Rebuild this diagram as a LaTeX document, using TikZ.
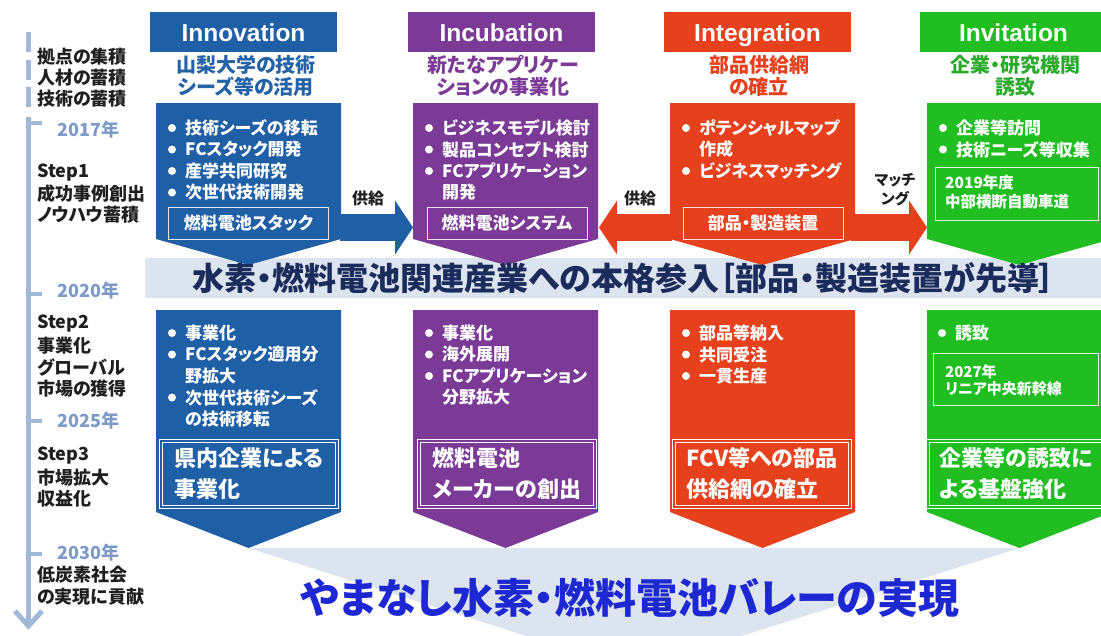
\documentclass[tikz,border=0pt]{standalone}
\usepackage{fontspec}
\setmainfont{Noto Sans CJK JP}[RawFeature=+palt]
\newfontfamily\latf{Liberation Sans}
\usetikzlibrary{arrows.meta}
\definecolor{cblue}{HTML}{1E5FA5}
\definecolor{cpurple}{HTML}{7B3A96}
\definecolor{cred}{HTML}{E6401C}
\definecolor{cgreen}{HTML}{20BE20}
\definecolor{sblue}{HTML}{2462A8}
\definecolor{spurple}{HTML}{7B3A96}
\definecolor{sred}{HTML}{E6401C}
\definecolor{sgreen}{HTML}{2AAA2A}
\definecolor{cbanner}{HTML}{DCE4F0}
\definecolor{cbantext}{HTML}{1B2B5B}
\definecolor{cbottom}{HTML}{1E28D2}
\definecolor{ctl}{HTML}{A2B8D8}
\definecolor{cyear}{HTML}{7E9BC8}
\newcommand\mychev[5]{\fill[#1] (#2,#3) -- ({#2+185},#3) -- ({#2+185},#4) -- ({#2+92.5},#5) -- (#2,#4) -- cycle;}
\newcommand\mybul[4]{\fill[white] (#1,#2) circle (4pt); \node[bt] (#4) at ({#1+13},#2) {#3};}
\tikzset{
  every node/.style={inner sep=0pt},
  lbl/.style={anchor=west, text=black!88, font=\bfseries\fontsize{18}{21}\selectfont},
  yr/.style={anchor=west, text=cyear, font=\bfseries\fontsize{18}{21}\selectfont},
  ttl/.style={fill=#1, minimum width=187pt, minimum height=40pt, text height=24pt, text depth=5pt, text=white, font=\latf\bfseries\fontsize{24.5}{27}\selectfont},
  sub/.style={text=#1, align=center, font=\bfseries\fontsize{20}{22}\selectfont},
  bt/.style={anchor=west, text=white, font=\bfseries\fontsize{17}{20}\selectfont},
  tbox/.style={draw=white!85!#1, line width=0.9pt, minimum width=160pt, minimum height=32pt, text=white, font=\bfseries\fontsize{17}{20}\selectfont},
  lbox/.style={draw=white, double=#1, double distance=1.4pt, line width=1.1pt, minimum width=176pt, minimum height=66pt, text=white, align=left, font=\bfseries\fontsize{22}{31}\selectfont},
  gbox/.style={draw=white!85!cgreen, line width=0.9pt},
  gtext/.style={anchor=west, align=left, text=white, font=\bfseries\fontsize{15.5}{19}\selectfont},
  barrow/.style={draw=#1, line width=27pt, -{Triangle[length=18pt,width=54pt,line width=0pt]}},
  alabel/.style={text=black!88, align=center, font=\bfseries\fontsize{16}{19}\selectfont},
  tl/.style={draw=ctl, line width=5pt},
}
\begin{document}
\begin{tikzpicture}[x=1pt,y=-1pt]
\useasboundingbox (0,0) rectangle (1101,635);
\clip (0,0) rectangle (1101,635);
\fill[white] (0,0) rectangle (1101,635);
% timeline
\draw[tl] (28.5,32) -- (28.5,52);
\draw[tl] (28.5,60) -- (28.5,80);
\draw[tl] (28.5,87) -- (28.5,107);
\draw[tl] (28.5,117) -- (28.5,626);
\draw[tl, line width=4.5pt] (28.5,123) -- (42,123);
\draw[tl, line width=4.5pt] (28.5,294) -- (42,294);
\draw[tl, line width=4.5pt] (28.5,421) -- (42,421);
\draw[tl, line width=4.5pt] (28.5,554) -- (42,554);
\draw[tl, line join=miter] (15,611) -- (28.5,626) -- (42,611);
% left labels
\node[lbl] (k1) at (37,57) {拠点の集積};
\node[lbl] (k2) at (37,78) {人材の蓄積};
\node[lbl] (k3) at (37,99) {技術の蓄積};
\node[yr] (y1) at (57,130) {2017年};
\node[lbl] (s1a) at (37,173) {Step1};
\node[lbl] (s1b) at (37,194) {成功事例創出};
\node[lbl] (s1c) at (37,215) {ノウハウ蓄積};
\node[yr] (y2) at (57,291) {2020年};
\node[lbl] (s2a) at (37,324) {Step2};
\node[lbl] (s2b) at (37,346) {事業化};
\node[lbl] (s2c) at (37,367) {グローバル};
\node[lbl] (s2d) at (37,389) {市場の獲得};
\node[yr] (y3) at (57,421) {2025年};
\node[lbl] (s3a) at (37,456) {Step3};
\node[lbl] (s3b) at (37,478) {市場拡大};
\node[lbl] (s3c) at (37,499) {収益化};
\node[yr] (y4) at (57,553) {2030年};
\node[lbl] (g1) at (37,575) {低炭素社会};
\node[lbl] (g2) at (37,597) {の実現に貢献};
% titles
\node[ttl=cblue] (t1) at (243.5,32) {Innovation};
\node[ttl=cpurple] (t2) at (501.5,32) {Incubation};
\node[ttl=cred] (t3) at (757.5,32) {Integration};
\node[ttl=cgreen] (t4) at (1013.5,32) {Invitation};
\node[sub=sblue] (u1) at (246,76) {山梨大学の技術\\シーズ等の活用};
\node[sub=spurple] (u2) at (503,76) {新たなアプリケー\\ションの事業化};
\node[sub=sred] (u3) at (759,76) {部品供給網\\の確立};
\node[sub=sgreen] (u4) at (1015,76) {企業・研究機関\\誘致};
% banner
\fill[cbanner] (145,258) rectangle (1101,298);
% top chevrons
\mychev{cblue}{156}{103}{239}{265}
\mychev{cpurple}{413}{103}{239}{265}
\mychev{cred}{670}{103}{239}{265}
\mychev{cgreen}{927}{103}{239}{265}
\node[text=cbantext, font=\bfseries\fontsize{32}{35}\selectfont] (ban) at (624,278) {水素・燃料電池関連産業への本格参入［部品・製造装置が先導］};
% bottom goal triangle
\fill[cbanner] (248.5,548) -- (1019.5,548) -- (634,670) -- cycle;
% lower chevrons
\mychev{cblue}{156}{310}{512}{548}
\mychev{cpurple}{413}{310}{512}{548}
\mychev{cred}{670}{310}{512}{548}
\mychev{cgreen}{927}{310}{512}{548}
% top bullets
\mybul{172}{128}{技術シーズの移転}{b11}
\mybul{172}{149.5}{FCスタック開発}{b12}
\mybul{172}{171}{産学共同研究}{b13}
\mybul{172}{192.5}{次世代技術開発}{b14}
\mybul{429}{128}{ビジネスモデル検討}{b21}
\mybul{429}{149.5}{製品コンセプト検討}{b22}
\mybul{429}{171}{FCアプリケーション}{b23}
\node[bt] (b24) at (442,192.5) {開発};
\mybul{686}{128}{ポテンシャルマップ}{b31}
\node[bt] (b32) at (699,149.5) {作成};
\mybul{686}{171}{ビジネスマッチング}{b33}
\mybul{943}{128}{企業等訪問}{b41}
\mybul{943}{149.5}{技術ニーズ等収集}{b42}
% top inner boxes
\node[tbox=cblue] (p1) at (248.5,223) {燃料電池スタック};
\node[tbox=cpurple] (p2) at (507,223) {燃料電池システム};
\node[tbox=cred] (p3) at (763,223) {部品・製造装置};
\node[gbox, minimum width=163pt, minimum height=53pt] (p4) at (1016.5,193.5) {};
\node[gtext] (p4t) at (945,192) {2019年度\\中部横断自動車道};
% arrows
\coordinate (a1s) at (340,227.5);
\coordinate (a1e) at (413,227.5);
\draw[barrow=cblue] (a1s) -- (a1e);
\coordinate (a2s) at (672,227.5);
\coordinate (a2e) at (599,227.5);
\draw[barrow=cred] (a2s) -- (a2e);
\coordinate (a3s) at (851,227.5);
\coordinate (a3e) at (927,227.5);
\draw[barrow=cred] (a3s) -- (a3e);
\node[alabel] (l1) at (368,198) {供給};
\node[alabel] (l2) at (640,198) {供給};
\node[alabel, font=\bfseries\fontsize{15}{19}\selectfont] (l3) at (895,189.5) {マッチ\\ング};
% lower bullets
\mybul{172}{333}{事業化}{c11}
\mybul{172}{354.5}{FCスタック適用分}{c12}
\node[bt] (c13) at (185,376) {野拡大};
\mybul{172}{397.5}{次世代技術シーズ}{c14}
\node[bt] (c15) at (185,419) {の技術移転};
\mybul{429}{333}{事業化}{c21}
\mybul{429}{354.5}{海外展開}{c22}
\mybul{429}{376}{FCアプリケーション}{c23}
\node[bt] (c24) at (442,397.5) {分野拡大};
\mybul{686}{333}{部品等納入}{c31}
\mybul{686}{354.5}{共同受注}{c32}
\mybul{686}{376}{一貫生産}{c33}
\mybul{942}{333}{誘致}{c41}
\node[gbox, minimum width=165pt, minimum height=52pt] (q4) at (1015.5,379) {};
\node[gtext, font=\bfseries\fontsize{15}{17}\selectfont] (q4t) at (945,380) {2027年\\リニア中央新幹線};
% lower inner boxes
\node[lbox=cblue] (r1) at (249,474) {県内企業による\\事業化};
\node[lbox=cpurple] (r2) at (507,474) {燃料電池\\メーカーの創出};
\node[lbox=cred] (r3) at (762,474) {FCV等への部品\\供給網の確立};
\node[lbox=cgreen] (r4) at (1016,474) {企業等の誘致に\\よる基盤強化};
% goal text
\node[text=cbottom, font=\bfseries\fontsize{41}{44}\selectfont] (goal) at (630,598) {やまなし水素・燃料電池バレーの実現};
\end{tikzpicture}
\end{document}
